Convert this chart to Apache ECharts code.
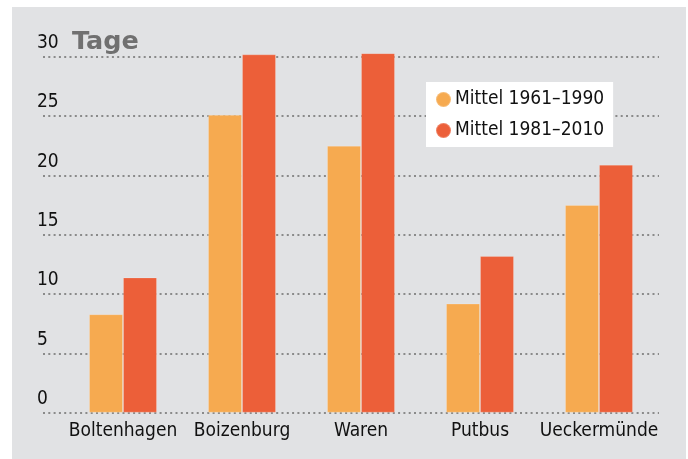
<!DOCTYPE html>
<html lang="de">
<head>
    <meta charset="UTF-8">
    <title>Tage</title>
    <style>
        body { margin: 0; background: #fff; }
    </style>
</head>
<body>
<div id="main" style="width:688px;height:459px;"></div>
<script src="https://cdn.jsdelivr.net/npm/echarts@6/dist/echarts.min.js"></script>
<script>
    var stations = ['Boltenhagen', 'Boizenburg', 'Waren', 'Putbus', 'Ueckermünde'];
    var mittel1961 = [8.3, 25.1, 22.5, 9.2, 17.5];
    var mittel1981 = [11.4, 30.2, 30.3, 13.2, 20.9];
    var seriesNames = ['Mittel 1961–1990', 'Mittel 1981–2010'];
    var colors = ['#f6aa50', '#ec5f39'];

    var font = 'DejaVu Sans Condensed';
    var myChart = echarts.init(document.getElementById('main'));

    var option = {
        backgroundColor: '#fff',
        textStyle: { fontFamily: font },
        graphic: [{
            type: 'rect',
            z: -10,
            shape: { x: 12, y: 7, width: 674, height: 452 },
            style: { fill: '#e1e2e4' }
        }],
        title: {
            text: 'Tage',
            left: 67,
            top: 24,
            textStyle: { fontFamily: 'DejaVu Sans', fontWeight: 'bold', fontSize: 25.5, color: '#707070' }
        },
        legend: {
            orient: 'vertical',
            left: 426,
            top: 82,
            backgroundColor: '#fff',
            padding: [8, 9, 7, 9],
            itemGap: 12,
            itemWidth: 15,
            itemHeight: 15,
            icon: 'circle',
            textStyle: { fontFamily: font, fontSize: 19, color: '#111', padding: [0, 0, 0, -1] },
            data: seriesNames
        },
        grid: [
            { left: 43, right: 29, top: 56.7, bottom: 46.3 },
            { left: 63.5, right: 29.5, top: 56.7, bottom: 46.3 }
        ],
        xAxis: [
            { gridIndex: 0, type: 'value', show: false, min: 0, max: 1 },
            {
                gridIndex: 1,
                type: 'category',
                data: stations,
                axisLine: { show: false },
                axisTick: { show: false },
                axisLabel: { fontFamily: font, fontSize: 19, color: '#111', margin: 9, interval: 0 }
            }
        ],
        yAxis: [
            {
                gridIndex: 0,
                type: 'value',
                min: 0,
                max: 30,
                interval: 5,
                axisLine: { show: false },
                axisTick: { show: false },
                splitLine: {
                    lineStyle: { color: '#8a8a8a', type: [2, 3.3], width: 2 }
                },
                axisLabel: {
                    fontFamily: font,
                    fontSize: 19,
                    color: '#111',
                    align: 'left',
                    verticalAlign: 'bottom',
                    margin: 6,
                    padding: [0, 0, 4, 0]
                }
            },
            { gridIndex: 1, type: 'value', min: 0, max: 30, show: false }
        ],
        series: [
            {
                name: seriesNames[0],
                type: 'bar',
                xAxisIndex: 1,
                yAxisIndex: 1,
                barWidth: 34,
                barGap: 0,
                clip: false,
                itemStyle: { color: colors[0], borderColor: 'rgba(255,255,255,0.2)', borderWidth: 1 },
                data: mittel1961
            },
            {
                name: seriesNames[1],
                type: 'bar',
                xAxisIndex: 1,
                yAxisIndex: 1,
                barWidth: 34,
                barGap: 0,
                clip: false,
                itemStyle: { color: colors[1], borderColor: 'rgba(255,255,255,0.2)', borderWidth: 1 },
                data: mittel1981
            }
        ]
    };
    myChart.setOption(option);
</script>
</body>
</html>
